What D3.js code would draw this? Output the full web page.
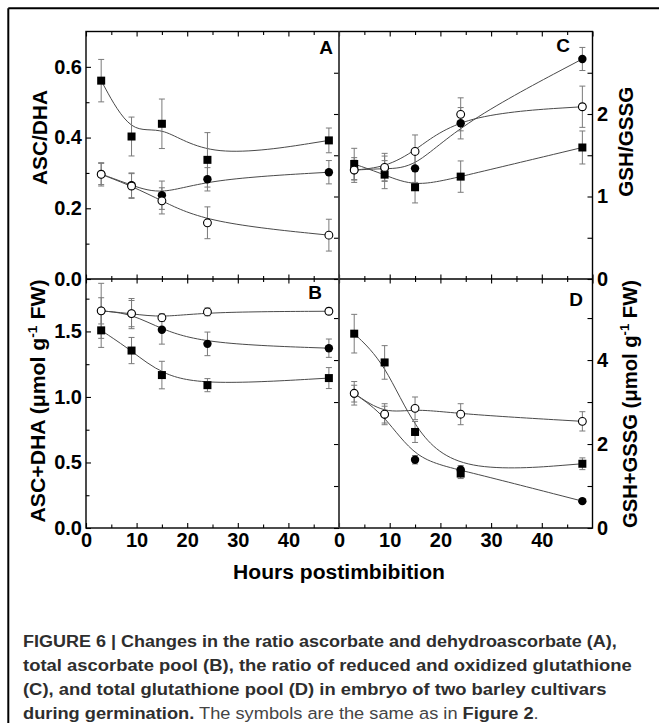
<!DOCTYPE html>
<html><head><meta charset="utf-8">
<script src="https://cdn.jsdelivr.net/npm/d3@7"></script>
<style>body{margin:0;background:#fff} svg{display:block}</style>
</head><body>
<svg id="chart" width="659" height="728"></svg>
<script>
// ---------- data ----------
const hours = [3, 9, 15, 24, 48];

// Panel A: ASC/DHA
const ascDhaSquare     = [0.561, 0.403, 0.439, 0.337, 0.392];
const ascDhaSquareErr  = [0.060, 0.055, 0.070, 0.077, 0.035];
const ascDhaFilled     = [0.297, 0.265, 0.237, 0.282, 0.302];
const ascDhaFilledErr  = [0.030, 0.035, 0.040, 0.033, 0.033];
const ascDhaOpen       = [0.296, 0.263, 0.221, 0.159, 0.124];
const ascDhaOpenErr    = [0.033, 0.035, 0.037, 0.045, 0.045];

// Panel B: ASC+DHA
const ascTotSquare     = [1.508, 1.354, 1.167, 1.090, 1.144];
const ascTotSquareErr  = [0.130, 0.100, 0.105, 0.050, 0.080];
const ascTotFilled     = [1.657, 1.636, 1.513, 1.405, 1.372];
const ascTotFilledErr  = [0.100, 0.100, 0.110, 0.090, 0.070];
const ascTotOpen       = [1.657, 1.636, 1.605, 1.649, 1.654];
const ascTotOpenErr    = [0.210, 0.115, 0.030, 0.030, 0.025];

// Panel C: GSH/GSSG
const gshRatioSquare    = [1.394, 1.265, 1.112, 1.241, 1.594];
const gshRatioSquareErr = [0.190, 0.170, 0.190, 0.190, 0.200];
const gshRatioFilled    = [1.320, 1.340, 1.341, 1.888, 2.667];
const gshRatioFilledErr = [0.120, 0.150, 0.170, 0.190, 0.140];
const gshRatioOpen      = [1.321, 1.353, 1.546, 1.996, 2.088];
const gshRatioOpenErr   = [0.150, 0.170, 0.200, 0.200, 0.250];

// Panel D: GSH+GSSG
const gshTotSquare     = [4.628, 3.943, 2.287, 1.297, 1.530];
const gshTotSquareErr  = [0.460, 0.400, 0.250, 0.120, 0.140];
const gshTotFilled     = [3.200, 2.700, 1.625, 1.386, 0.640];
const gshTotFilledErr  = [0.200, 0.200, 0.100, 0.100, 0.050];
const gshTotOpen       = [3.208, 2.710, 2.850, 2.710, 2.540];
const gshTotOpenErr    = [0.280, 0.250, 0.270, 0.250, 0.230];

// ticks
const xTickMajor = [0, 10, 20, 30, 40];
const xTickAll   = [0, 5, 10, 15, 20, 25, 30, 35, 40, 45, 50];
const aTickMajor = [0, 0.2, 0.4, 0.6],  aTickMinor = [0.1, 0.3, 0.5];
const bTickMajor = [0, 0.5, 1.0, 1.5],  bTickMinor = [0.25, 0.75, 1.25, 1.75];
const cTickMajor = [0, 1, 2],           cTickMinor = [0.5, 1.5, 2.5];
const dTickMajor = [0, 2, 4],           dTickMinor = [1, 3, 5];

// ---------- layout ----------
const X0 = 86, XM = 339, X1 = 592.5;
const YT = 31.5, YM = 279, YB = 528;
const FONT = "'Liberation Sans', Arial, sans-serif";

const svg = d3.select("#chart");

const xL = d3.scaleLinear().domain([0, 50]).range([X0, XM]);
const xR = d3.scaleLinear().domain([0, 50]).range([XM, X1]);
const yA = d3.scaleLinear().domain([0, 0.7]).range([YM, YT]);
const yB = d3.scaleLinear().domain([0, 1.9]).range([YB, YM]);
const yC = d3.scaleLinear().domain([0, 3]).range([YM, YT]);
const yD = d3.scaleLinear().domain([0, 5.93]).range([YB, YM]);

// frame of the figure
svg.append("line").attr("x1", 8.3).attr("x2", 659).attr("y1", 8.3).attr("y2", 8.3)
  .attr("stroke", "#000").attr("stroke-width", 2);
svg.append("line").attr("x1", 8.3).attr("x2", 8.3).attr("y1", 8.3).attr("y2", 723)
  .attr("stroke", "#000").attr("stroke-width", 2);

function styleAxis(g, size) {
  g.select(".domain").remove();
  g.selectAll("text").attr("font-family", FONT).attr("font-weight", "bold")
    .attr("font-size", size || 20).attr("fill", "#000");
  g.selectAll("line").attr("stroke", "#000").attr("stroke-width", 1.1);
}

function axis(gen, tx, ty, size) {
  const g = svg.append("g").attr("transform", `translate(${tx},${ty})`).call(gen);
  styleAxis(g, size);
  return g;
}

// ----- x axes -----
[xL, xR].forEach(x => {
  axis(d3.axisBottom(x).tickValues(xTickMajor).tickSize(-5).tickPadding(4.5).tickFormat(d3.format("d")), 0, YB);
  axis(d3.axisBottom(x).tickValues(xTickAll.filter(v => v % 10)).tickSize(-3.5).tickFormat(""), 0, YB);
  axis(d3.axisTop(x).tickValues(xTickMajor.concat([50])).tickSize(-5).tickFormat(""), 0, YT);
  axis(d3.axisTop(x).tickValues(xTickAll.filter(v => v % 10)).tickSize(-3.5).tickFormat(""), 0, YT);
  axis(d3.axisTop(x).tickValues(xTickMajor.concat([50])).tickSize(4.5).tickFormat(""), 0, YM);
  axis(d3.axisBottom(x).tickValues(xTickMajor.concat([50])).tickSize(4.5).tickFormat(""), 0, YM);
  axis(d3.axisTop(x).tickValues(xTickAll.filter(v => v % 10)).tickSize(3).tickFormat(""), 0, YM);
  axis(d3.axisBottom(x).tickValues(xTickAll.filter(v => v % 10)).tickSize(3).tickFormat(""), 0, YM);
});

// ----- left y axes -----
const fmt1 = d3.format(".1f");
axis(d3.axisLeft(yA).tickValues(aTickMajor).tickSize(-5).tickPadding(4).tickFormat(fmt1), X0, 0);
axis(d3.axisLeft(yA).tickValues(aTickMinor).tickSize(-3.5).tickFormat(""), X0, 0);
axis(d3.axisLeft(yB).tickValues(bTickMajor).tickSize(-5).tickPadding(4).tickFormat(fmt1), X0, 0);
axis(d3.axisLeft(yB).tickValues(bTickMinor).tickSize(-3.5).tickFormat(""), X0, 0);

// ----- right y axes -----
axis(d3.axisRight(yC).tickValues(cTickMajor).tickSize(-5).tickPadding(4.5).tickFormat(d3.format("d")), X1, 0);
axis(d3.axisRight(yC).tickValues(cTickMinor).tickSize(-5).tickFormat(""), X1, 0);
axis(d3.axisRight(yD).tickValues(dTickMajor).tickSize(-5).tickPadding(4.5).tickFormat(d3.format("d")), X1, 0);
axis(d3.axisRight(yD).tickValues(dTickMinor).tickSize(-5).tickFormat(""), X1, 0);
axis(d3.axisLeft(yC).tickValues(cTickMajor.concat(cTickMinor)).tickSize(5).tickFormat(""), XM, 0);
axis(d3.axisLeft(yD).tickValues(dTickMajor.concat(dTickMinor)).tickSize(5).tickFormat(""), XM, 0);

// frame lines of plot
const fr = svg.append("g").attr("stroke", "#000").attr("stroke-width", 1.4).attr("fill", "none");
fr.append("rect").attr("x", X0).attr("y", YT).attr("width", X1 - X0).attr("height", YB - YT);
fr.append("line").attr("x1", X0).attr("x2", X1).attr("y1", YM).attr("y2", YM);
fr.append("line").attr("x1", XM).attr("x2", XM).attr("y1", YT).attr("y2", YB)
  .attr("stroke", "#3a3a3a").attr("stroke-width", 1.8);

// ---------- series ----------
function drawPanel(x, y, series) {
  const g = svg.append("g");
  series.forEach(s => {
    g.append("path")
      .attr("d", d3.line().curve(d3.curveBasis).x((d, i) => x(hours[i])).y(d => y(d))(s.vals))
      .attr("fill", "none").attr("stroke", "#4a4a4a").attr("stroke-width", 1);
  });
  series.forEach(s => {
    s.vals.forEach((v, i) => {
      const cx = x(hours[i]), e = s.errs[i];
      const eg = g.append("g").attr("stroke", "#7a7a7a").attr("stroke-width", 1);
      eg.append("line").attr("x1", cx).attr("x2", cx).attr("y1", y(v + e)).attr("y2", y(v - e));
      eg.append("line").attr("x1", cx - 3).attr("x2", cx + 3).attr("y1", y(v + e)).attr("y2", y(v + e));
      eg.append("line").attr("x1", cx - 3).attr("x2", cx + 3).attr("y1", y(v - e)).attr("y2", y(v - e));
    });
  });
  const order = ["filled", "square", "open"];
  order.forEach(t => {
    series.filter(s => s.type === t).forEach(s => {
      s.vals.forEach((v, i) => {
        const cx = x(hours[i]), cy = y(v);
        if (t === "square") {
          g.append("rect").attr("x", cx - 4).attr("y", cy - 4).attr("width", 8).attr("height", 8).attr("fill", "#000");
        } else if (t === "filled") {
          g.append("circle").attr("cx", cx).attr("cy", cy).attr("r", 4.2).attr("fill", "#000");
        } else {
          g.append("circle").attr("cx", cx).attr("cy", cy).attr("r", 3.9)
            .attr("fill", "#fff").attr("stroke", "#000").attr("stroke-width", 1.1);
        }
      });
    });
  });
}

drawPanel(xL, yA, [
  {type: "square", vals: ascDhaSquare, errs: ascDhaSquareErr},
  {type: "filled", vals: ascDhaFilled, errs: ascDhaFilledErr},
  {type: "open",   vals: ascDhaOpen,   errs: ascDhaOpenErr}
]);
drawPanel(xL, yB, [
  {type: "square", vals: ascTotSquare, errs: ascTotSquareErr},
  {type: "filled", vals: ascTotFilled, errs: ascTotFilledErr},
  {type: "open",   vals: ascTotOpen,   errs: ascTotOpenErr}
]);
drawPanel(xR, yC, [
  {type: "square", vals: gshRatioSquare, errs: gshRatioSquareErr},
  {type: "filled", vals: gshRatioFilled, errs: gshRatioFilledErr},
  {type: "open",   vals: gshRatioOpen,   errs: gshRatioOpenErr}
]);
drawPanel(xR, yD, [
  {type: "square", vals: gshTotSquare, errs: gshTotSquareErr},
  {type: "filled", vals: gshTotFilled, errs: gshTotFilledErr},
  {type: "open",   vals: gshTotOpen,   errs: gshTotOpenErr}
]);

// ---------- panel letters ----------
const letters = [["A", 333, 54], ["B", 322, 299], ["C", 570, 52], ["D", 583, 306]];
letters.forEach(([t, lx, ly]) => {
  svg.append("text").attr("x", lx).attr("y", ly).attr("text-anchor", "end")
    .attr("font-family", FONT).attr("font-weight", "bold").attr("font-size", 19).text(t);
});

// ---------- axis titles ----------
function vTitle(cx, cy, baselineX, targetLen, parts) {
  const t = svg.append("text").attr("font-family", FONT).attr("font-weight", "bold")
    .attr("font-size", 20).attr("text-anchor", "middle");
  parts.forEach(p => {
    const ts = t.append("tspan").text(p.t);
    if (p.sup) ts.attr("font-size", 13).attr("dy", -8);
    if (p.after) ts.attr("dy", 8);
  });
  const w = t.node().getComputedTextLength();
  const s = targetLen / w;
  t.attr("transform", `translate(${baselineX},${cy}) rotate(-90) scale(${s},1)`);
}
vTitle(40, 137.5, 47, 95, [{t: "ASC/DHA"}]);
vTitle(40, 401, 44.5, 243, [{t: "ASC+DHA (\u03bcmol g"}, {t: "-1", sup: true}, {t: " FW)", after: true}]);
vTitle(625, 141.7, 633.3, 110, [{t: "GSH/GSSG"}]);
vTitle(628, 404, 636.7, 248, [{t: "GSH+GSSG (\u03bcmol g"}, {t: "-1", sup: true}, {t: " FW)", after: true}]);

// x title
(function () {
  const t = svg.append("text").attr("font-family", FONT).attr("font-weight", "bold")
    .attr("font-size", 21).attr("text-anchor", "middle").text("Hours postimbibition");
  const w = t.node().getComputedTextLength();
  t.attr("transform", `translate(339,579) scale(${212 / w},1)`);
})();

// ---------- caption ----------
const captionLines = [
  {y: 646.7, w: 594, parts: [{t: "FIGURE 6 | Changes in the ratio ascorbate and dehydroascorbate (A),", b: true}]},
  {y: 670.8, w: 609, parts: [{t: "total ascorbate pool (B), the ratio of reduced and oxidized glutathione", b: true}]},
  {y: 695.0, w: 584, parts: [{t: "(C), and total glutathione pool (D) in embryo of two barley cultivars", b: true}]},
  {y: 719.2, w: 516, parts: [{t: "during germination.", b: true}, {t: " The symbols are the same as in ", b: false},
                             {t: "Figure 2", b: true}, {t: ".", b: false}]}
];
captionLines.forEach(l => {
  const t = svg.append("text").attr("font-family", FONT).attr("font-size", 17).attr("fill", "#2e2e2e");
  l.parts.forEach(p => {
    t.append("tspan").attr("font-weight", p.b ? "bold" : "normal")
      .attr("fill", p.b ? "#2e2e2e" : "#444").text(p.t);
  });
  const w = t.node().getComputedTextLength();
  t.attr("transform", `translate(23,${l.y}) scale(${l.w / w},1)`);
});
</script>
</body></html>
